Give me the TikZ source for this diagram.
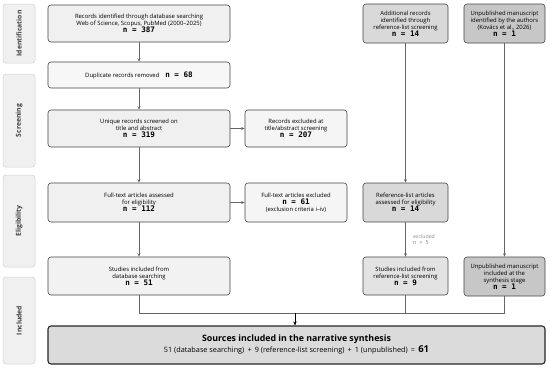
\documentclass[tikz,border=0pt]{standalone}
\usepackage{fontspec}
\setmainfont{Open Sans}
\newfontfamily\nfont{DejaVu Sans Mono}
\usetikzlibrary{arrows.meta}
\newcommand{\nn}[1]{{\fontsize{7.6}{8}\selectfont\nfont\bfseries n = #1}}
\definecolor{edgegray}{HTML}{454545}
\definecolor{linegray}{HTML}{666666}

\tikzset{
  box/.style={draw=edgegray, rounded corners=3pt, align=center, inner sep=1pt,
    font=\fontsize{5.9}{7.1}\selectfont, line width=0.6pt},
  mainbox/.style={box, fill=black!6, minimum width=182pt},
  sidebox/.style={box, fill=black!4, minimum width=102pt},
  refbox/.style={box, fill=black!15, minimum width=85pt},
  unpubbox/.style={box, fill=black!22, minimum width=81pt},
  stagebox/.style={draw=black!18, fill=black!6, rounded corners=3pt, minimum width=32pt,
    font=\fontsize{6.8}{8}\selectfont\bfseries\color{black!75}, line width=0.5pt},
  flow/.style={draw=linegray, line width=0.7pt, -{Stealth[length=3.5pt,width=3pt]}},
  plain/.style={draw=linegray, line width=0.7pt},
}

\begin{document}
\begin{tikzpicture}[x=1pt, y=-1pt]
  \useasboundingbox (0,0) rectangle (550,370);

  % stage labels
  \node[stagebox, minimum height=59pt] (sid) at (19,33.5) {\rotatebox{90}{Identification}};
  \node[stagebox, minimum height=93pt] (sscr) at (19,120.5) {\rotatebox{90}{Screening}};
  \node[stagebox, minimum height=92pt] (selig) at (19,221) {\rotatebox{90}{Eligibility}};
  \node[stagebox, minimum height=87pt] (sinc) at (19,320.5) {\rotatebox{90}{Included}};

  % database column
  \node[mainbox, minimum height=37pt] (ident) at (139,23.5)
    {Records identified through database searching\\Web of Science, Scopus, PubMed (2000--2025)\\\nn{387}};
  \node[mainbox, fill=black!3, minimum height=26pt] (dup) at (139,75)
    {Duplicate records removed\quad\nn{68}};
  \node[mainbox, minimum height=37pt] (screen) at (139,128.5)
    {Unique records screened on\\title and abstract\\\nn{319}};
  \node[mainbox, minimum height=39pt] (full) at (139,202.5)
    {Full-text articles assessed\\for eligibility\\\nn{112}};
  \node[mainbox, fill=black!5, minimum height=38pt] (incl) at (139,276)
    {Studies included from\\database searching\\\nn{51}};

  % exclusions
  \node[sidebox, minimum height=37pt] (exscreen) at (296,128.5)
    {Records excluded at\\title/abstract screening\\\nn{207}};
  \node[sidebox, minimum height=39pt] (exfull) at (296,202.5)
    {Full-text articles excluded\\\nn{61}\\(exclusion criteria i--iv)};

  % reference-list column
  \node[refbox, minimum height=39pt] (addrec) at (405.5,23.5)
    {Additional records\\identified through\\reference-list screening\\\nn{14}};
  \node[refbox, minimum height=39pt] (refass) at (405.5,202.5)
    {Reference-list articles\\assessed for eligibility\\\nn{14}};
  \node[refbox, fill=black!11, minimum height=38pt] (refincl) at (405.5,276)
    {Studies included from\\reference-list screening\\\nn{9}};

  % unpublished column
  \node[unpubbox, minimum height=39pt] (unpub) at (504.5,23.5)
    {Unpublished manuscript\\identified by the authors\\(Kovács et al., 2026)\\\nn{1}};
  \node[unpubbox, minimum height=39pt] (unpubincl) at (504.5,276.5)
    {Unpublished manuscript\\included at the\\synthesis stage\\\nn{1}};

  % synthesis
  \node[box, fill=black!14, draw=black!85, line width=1.1pt, minimum width=497pt, minimum height=38pt,
    font=\fontsize{7.3}{11}\selectfont] (final) at (296.5,345)
    {{\fontsize{8.8}{10}\selectfont\bfseries Sources included in the narrative synthesis}\\
     51 (database searching)\, + \,9 (reference-list screening)\, + \,1 (unpublished)\, = \,{\fontsize{9.5}{10}\selectfont\bfseries 61}};

  % connectors
  \draw[flow] (ident) -- (dup);
  \draw[flow] (dup) -- (screen);
  \draw[flow] (screen) -- (full);
  \draw[flow] (full) -- (incl);
  \draw[flow] (screen) -- (exscreen);
  \draw[flow] (full) -- (exfull);
  \draw[flow] (addrec) -- (refass);
  \draw[flow] (refass) -- (refincl)
    node[pos=0.5, right=4pt, align=left, text=black!45, font=\fontsize{5.2}{6.2}\selectfont] (exref)
    {excluded\\{\nfont n = 5}};
  \draw[flow] (unpub) -- (unpubincl);

  \coordinate (jdb) at (139,313);
  \coordinate (jref) at (405.5,313);
  \coordinate (jun) at (504.5,313);
  \coordinate (jmid) at (295,313);
  \draw[plain] (incl.south) -- (jdb) -- (jun) -- (unpubincl.south);
  \draw[plain] (refincl.south) -- (jref);
  \draw[draw=black, line width=0.8pt, -{Stealth[length=4pt,width=3.5pt]}] (jmid) -- (jmid |- final.north);
\end{tikzpicture}
\end{document}
